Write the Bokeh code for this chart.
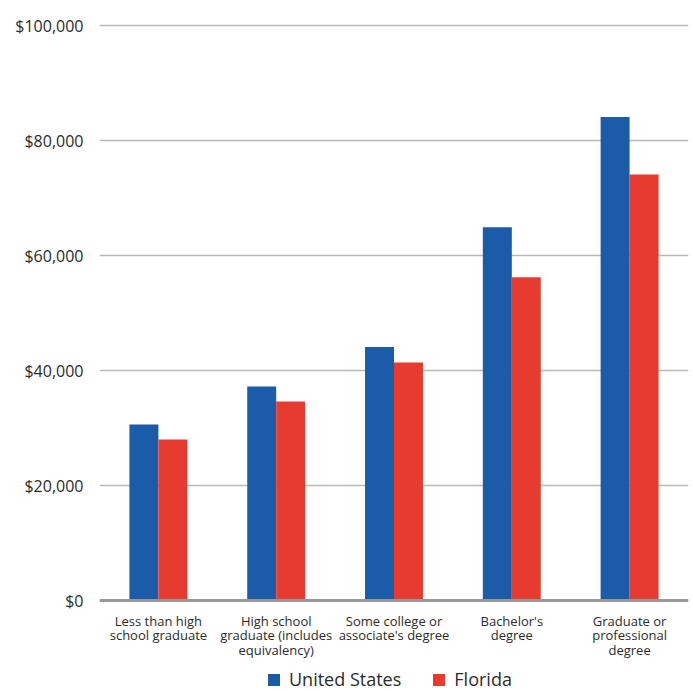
from bokeh.plotting import figure
from bokeh.models import ColumnDataSource, FactorRange, Range1d, FixedTicker, NumeralTickFormatter, Legend, LegendItem, Span
from bokeh.core.properties import value
from bokeh.transform import dodge
from bokeh.embed import file_html
from bokeh.resources import INLINE

categories = ["Less than high\nschool graduate",
              "High school\ngraduate (includes\nequivalency)",
              "Some college or\nassociate's degree",
              "Bachelor's\ndegree",
              "Graduate or\nprofessional\ndegree"]
us_values = [30600, 37200, 44100, 64900, 84100]
fl_values = [28000, 34600, 41400, 56200, 74100]
y_ticks = [0, 20000, 40000, 60000, 80000, 100000]
series_names = ["United States", "Florida"]

BLUE = "#1b5ba8"
RED = "#e63b2e"
TEXT = "#2b2b2b"
FONT = "Open Sans"

src = ColumnDataSource(dict(cat=categories, us=us_values, fl=fl_values,
                            base=[0] * len(categories)))

p = figure(width=693, height=691, output_backend="svg", toolbar_location=None,
           x_range=FactorRange(factors=categories, range_padding=0),
           y_range=Range1d(-15826, 102609),
           min_border_left=99, min_border_right=5, min_border_top=10, min_border_bottom=0)
p.outline_line_color = None
p.xaxis.visible = False

bw = 0.246
r_us = p.vbar(x=dodge("cat", -bw / 2, range=p.x_range), top="us", width=bw, source=src,
              fill_color=BLUE, line_color=None)
r_fl = p.vbar(x=dodge("cat", bw / 2, range=p.x_range), top="fl", width=bw, source=src,
              fill_color=RED, line_color=None)

p.xgrid.grid_line_color = None
p.ygrid.ticker = FixedTicker(ticks=y_ticks)
p.ygrid.grid_line_color = "#b8b8b8"
p.ygrid.grid_line_width = 1.5

p.yaxis.ticker = FixedTicker(ticks=y_ticks)
p.yaxis.formatter = NumeralTickFormatter(format="$0,0")
p.yaxis.axis_line_color = None
p.yaxis.major_tick_line_color = None
p.yaxis.minor_tick_line_color = None
p.yaxis.major_tick_out = 0
p.yaxis.major_tick_in = 0
p.yaxis.major_label_standoff = 16
p.yaxis.major_label_text_font = FONT
p.yaxis.major_label_text_font_size = "16px"
p.yaxis.major_label_text_color = TEXT

# baseline
p.add_layout(Span(location=0, dimension="width", line_color="#999999", line_width=3))

# category labels
p.text(x="cat", y="base", text="cat", source=src, y_offset=11,
       text_align="center", text_baseline="top",
       text_font=value(FONT), text_font_size="13px", text_color=TEXT,
       text_line_height=0.82)

legend = Legend(items=[LegendItem(label=series_names[0], renderers=[r_us]),
                       LegendItem(label=series_names[1], renderers=[r_fl])],
                orientation="horizontal", location=(167, 0),
                glyph_width=15, glyph_height=15, spacing=30, label_standoff=8,
                label_text_font=FONT, label_text_font_size="18px", label_text_color=TEXT,
                border_line_color=None, background_fill_alpha=0,
                padding=0, margin=0)
p.add_layout(legend, "center")

open("out.html", "w").write(file_html(p, INLINE))
